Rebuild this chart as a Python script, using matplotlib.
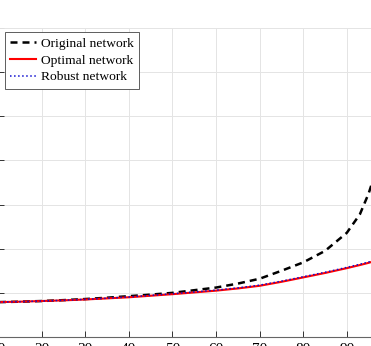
import numpy as np
import matplotlib
matplotlib.use('Agg')
import matplotlib.pyplot as plt

#dati
x = [10, 15, 20, 25, 30, 35, 40, 45, 50, 55, 60, 65, 70, 75, 80, 85, 90, 93, 95, 96]
original = [0.79, 0.80, 0.815, 0.835, 0.86, 0.89, 0.925, 0.96, 1.0, 1.06, 1.12, 1.21,
            1.32, 1.50, 1.69, 1.95, 2.36, 2.78, 3.25, 3.55]
optimal = [0.79, 0.80, 0.815, 0.83, 0.85, 0.875, 0.90, 0.935, 0.97, 1.01, 1.05, 1.10,
           1.16, 1.25, 1.35, 1.45, 1.56, 1.63, 1.68, 1.71]
robust = [0.79, 0.80, 0.815, 0.832, 0.853, 0.879, 0.907, 0.943, 0.98, 1.02, 1.062, 1.113,
          1.175, 1.265, 1.365, 1.466, 1.577, 1.648, 1.698, 1.728]
xticks = [10, 20, 30, 40, 50, 60, 70, 80, 90, 100]
yticks = [0, 1, 2, 3, 4, 5, 6, 7]

plt.rcParams['font.family'] = ['Liberation Serif', 'DejaVu Serif']

fig = plt.figure(figsize=(3.71, 3.46), dpi=100)
# gli assi escono dalla figura (immagine ritagliata)
ax = fig.add_axes([-1.9/371, 9/346, 392.3/371, 309/346])

ax.plot(x, original, 'k--', lw=1.8, dashes=(2.8, 2.0), label='Original network')
ax.plot(x, optimal, color='r', lw=1.5, label='Optimal network')
ax.plot(x, robust, color='#1010d0', ls=':', lw=1.1, label='Robust network')

ax.set_xlim(10, 100)
ax.set_ylim(0, 7)
ax.set_xticks(xticks)
ax.set_yticks(yticks)
ax.grid(True, color='#e4e4e4', lw=0.7)
ax.set_axisbelow(True)
ax.tick_params(direction='in', length=4, width=0.7, color='#333333', labelsize=11, pad=4)
ax.spines['bottom'].set_color('#666666')
ax.spines['bottom'].set_linewidth(0.8)
ax.spines['top'].set_color('#e4e4e4')
ax.spines['top'].set_linewidth(0.7)

leg = ax.legend(loc='upper left', bbox_to_anchor=(6.5/392.3, 1 - 4/309), fontsize=9.7,
                fancybox=False, edgecolor='#444444', framealpha=1, borderpad=0.4,
                handlelength=1.9, handletextpad=0.4, labelspacing=0.32, borderaxespad=0)
leg.get_frame().set_linewidth(0.6)

plt.savefig('out.png', dpi=100)
